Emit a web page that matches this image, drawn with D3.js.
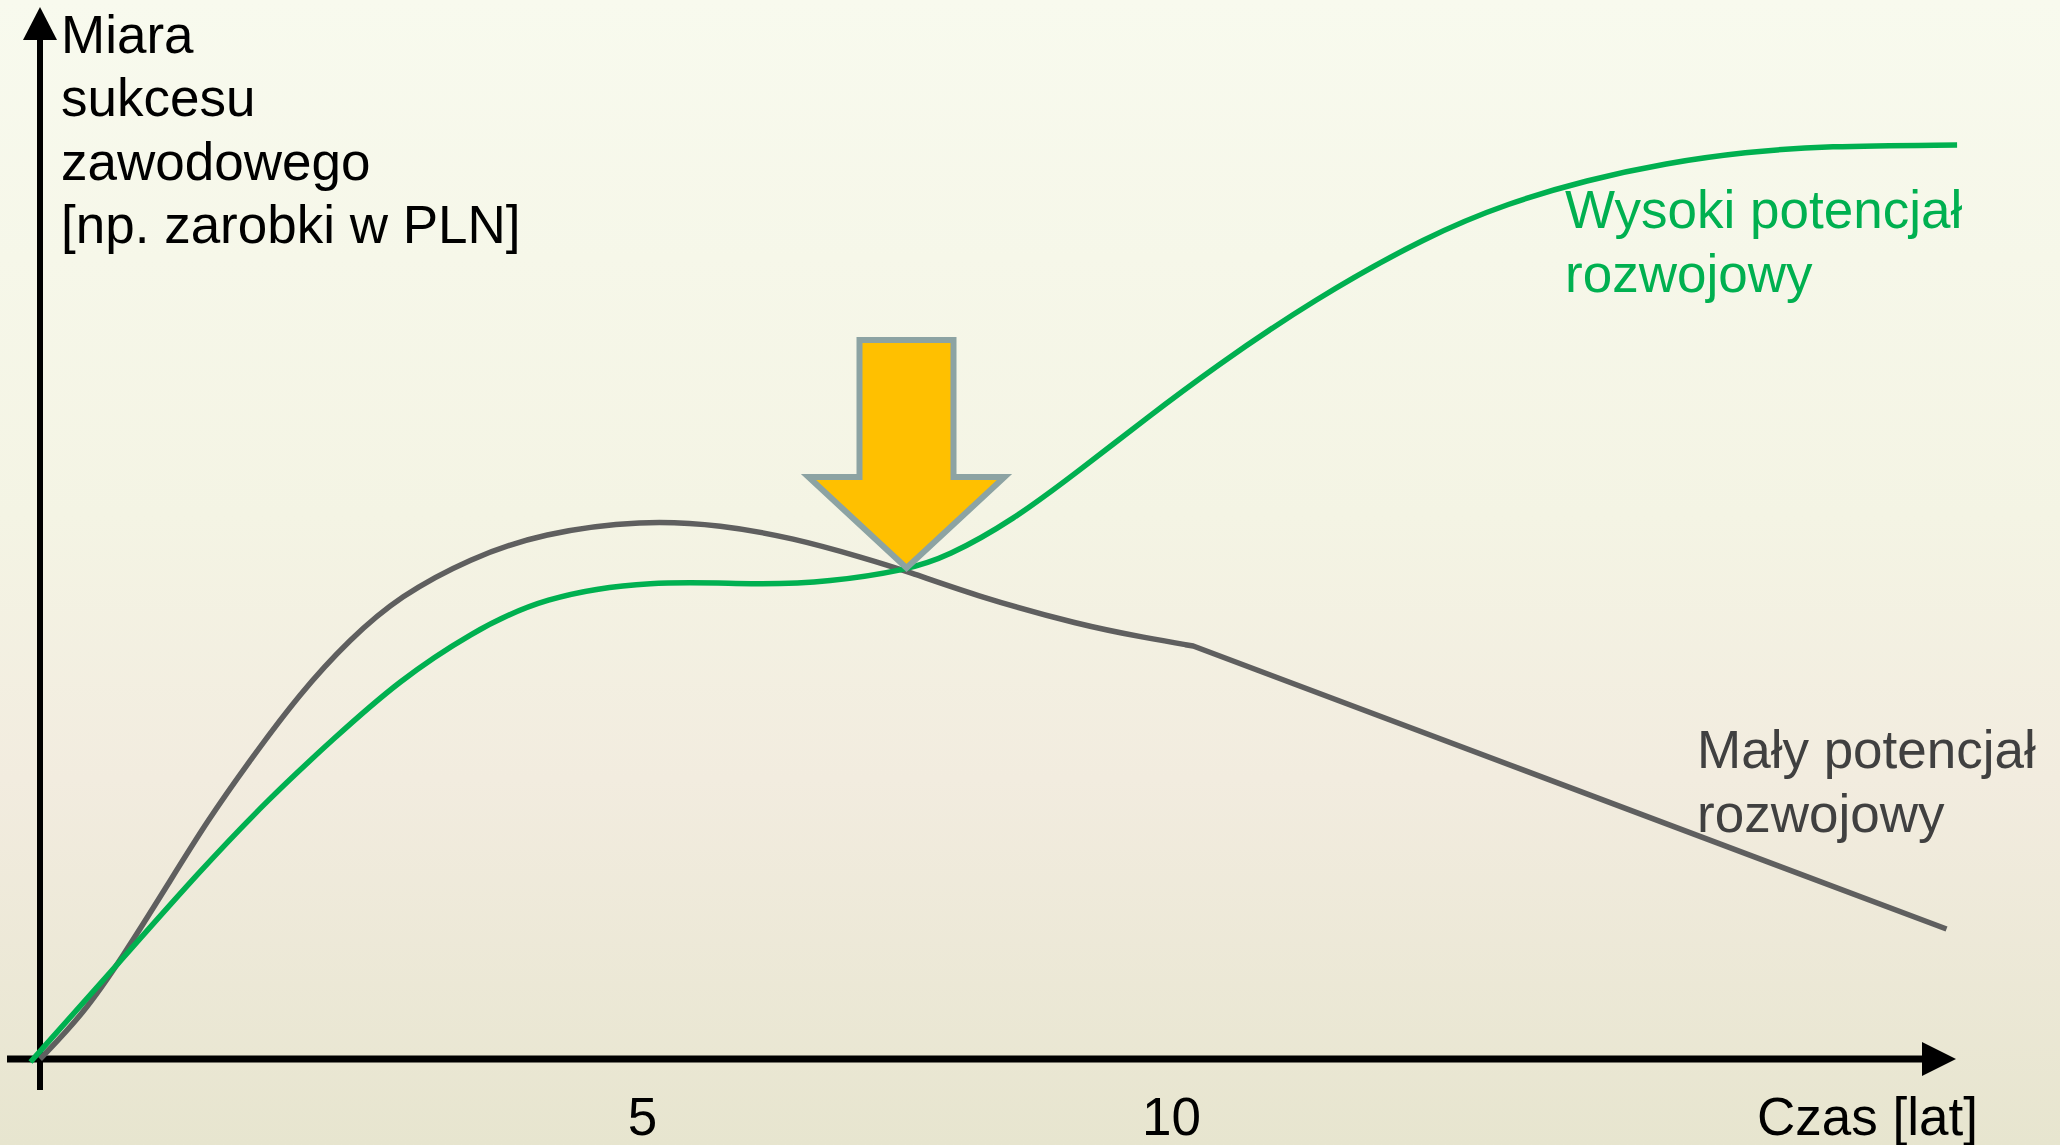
<!DOCTYPE html>
<html lang="pl">
<head>
<meta charset="utf-8">
<title>Potencjał rozwojowy</title>
<script src="https://cdn.jsdelivr.net/npm/d3@7"></script>
<style>
  html, body { margin: 0; padding: 0; background: #f4f4e4; }
  svg { display: block; }
  text { font-family: "Liberation Sans", Arial, sans-serif; }
</style>
</head>
<body>
<svg id="chart" width="2060" height="1145"></svg>
<script>
// Career success over time for two development profiles (values in arbitrary units)
const xTickValues = [5, 10];
const xTitle = "Czas [lat]";
const yTitleLines = ["Miara", "sukcesu", "zawodowego", "[np. zarobki w PLN]"];

// High development potential: slower start, plateau, then strong growth
const highYears  = [-0.78, 0.07, 0.82, 1.46, 2.08, 2.71, 3.38, 4.06, 5.08, 6.09, 6.77, 7.50, 7.88, 8.51, 9.14, 9.77, 10.40, 11.34, 12.44, 13.19, 13.93, 14.68, 15.43, 16.17, 17.43];
const highValues = [-0.3, 9.8, 18.8, 25.9, 32.0, 37.9, 42.6, 46.2, 47.9, 47.4, 47.7, 48.9, 50.2, 53.9, 58.9, 64.1, 69.1, 75.9, 82.4, 85.6, 87.9, 89.6, 90.7, 91.3, 91.4];
const highLabel = ["Wysoki potencjał", "rozwojowy"];

// Low development potential: quick start, peak, then decline
const lowYears  = [-0.69, -0.28, 0.09, 0.51, 0.89, 1.29, 1.77, 2.24, 2.71, 3.38, 4.06, 5.01, 5.75, 6.43, 7.10, 7.50, 8.19, 9.14, 9.77, 10.21];
const lowValues = [0, 4.5, 10.2, 17.3, 23.8, 29.8, 36.6, 42.0, 46.3, 50.1, 52.6, 53.9, 53.4, 52.1, 50.1, 48.8, 46.2, 43.4, 42.1, 41.3];
// after year ~10 the decline is linear
const lowTailYears  = [10.21, 17.33];
const lowTailValues = [41.3, 13.0];
const lowLabel = ["Mały potencjał", "rozwojowy"];

// The turning point where the two paths cross
const crossingYear = 7.5;
const crossingValue = 48.9;

const W = 2060, H = 1145;
const FONT = 53;
const svg = d3.select("#chart");

// Background gradient
const defs = svg.append("defs");
const bg = defs.append("linearGradient").attr("id", "bg")
  .attr("x1", 0).attr("y1", 0).attr("x2", 0).attr("y2", 1);
[["0%", "#f8faee"], ["45%", "#f4f4e4"], ["68%", "#f2ecdf"], ["100%", "#e7e5cf"]]
  .forEach(([o, c]) => bg.append("stop").attr("offset", o).attr("stop-color", c));
svg.append("rect").attr("width", W).attr("height", H).attr("fill", "url(#bg)");

// Scales
const x = d3.scaleLinear().domain([0, 10]).range([113, 1171]);
const y = d3.scaleLinear().domain([0, 100]).range([1059, 59]);

const x0 = 40, y0 = y(0);

// Axes with arrowheads
const axisG = svg.append("g");
axisG.append("line").attr("x1", x0).attr("x2", x0).attr("y1", 1090).attr("y2", 36)
  .attr("stroke", "#000").attr("stroke-width", 6);
axisG.append("path")
  .attr("d", `M${x0},7 L${x0 - 17},40 L${x0 + 17},40 Z`).attr("fill", "#000");
axisG.append("line").attr("x1", 7).attr("x2", 1926).attr("y1", y0).attr("y2", y0)
  .attr("stroke", "#000").attr("stroke-width", 7);
axisG.append("path")
  .attr("d", `M1956,${y0} L1922,${y0 - 17} L1922,${y0 + 17} Z`).attr("fill", "#000");

// Tick labels
const xAxis = d3.axisBottom(x).tickValues(xTickValues).tickSize(0).tickFormat(d3.format("d"));
const xAxisG = svg.append("g").attr("transform", `translate(0,${y0})`).call(xAxis);
xAxisG.select(".domain").remove();
xAxisG.selectAll("text")
  .attr("y", 76).attr("dy", 0)
  .attr("font-size", FONT).attr("fill", "#000")
  .attr("font-family", "'Liberation Sans', Arial, sans-serif");

// Axis titles
svg.append("text").attr("x", 1757).attr("y", 1135)
  .attr("font-size", FONT).attr("fill", "#000").text(xTitle);
const yt = svg.append("text").attr("font-size", FONT).attr("fill", "#000");
yTitleLines.forEach((s, i) => yt.append("tspan").attr("x", 61).attr("y", 53 + i * 63.3).text(s));

// Lines (B-spline through the sampled points keeps the curves smooth)
const lineGen = d3.line().x(d => x(d[0])).y(d => y(d[1])).curve(d3.curveBasis);

const highData = highYears.map((t, i) => [t, highValues[i]]);
const lowData = lowYears.map((t, i) => [t, lowValues[i]]);
const lowTail = lowTailYears.map((t, i) => [t, lowTailValues[i]]);

let lowPath = lineGen(lowData);
lowTail.slice(1).forEach(d => { lowPath += `L${x(d[0])},${y(d[1])}`; });

svg.append("path").attr("d", lowPath)
  .attr("fill", "none").attr("stroke", "#5f5f5f").attr("stroke-width", 5.5)
  .attr("stroke-linejoin", "round");
svg.append("path").attr("d", lineGen(highData))
  .attr("fill", "none").attr("stroke", "#00b050").attr("stroke-width", 5.5);

// Series labels
const hl = svg.append("text").attr("font-size", FONT).attr("fill", "#00b050");
highLabel.forEach((s, i) => hl.append("tspan").attr("x", 1565).attr("y", 228 + i * 64).text(s));
const ll = svg.append("text").attr("font-size", FONT).attr("fill", "#404040");
lowLabel.forEach((s, i) => ll.append("tspan").attr("x", 1697).attr("y", 768 + i * 64).text(s));

// Block arrow pointing at the crossing point
const tx = x(crossingYear), ty = y(crossingValue) - 2;
const shaftHalf = 47, headHalf = 98, headLen = 91, totalLen = 228;
const arrowPts = [
  [tx - shaftHalf, ty - totalLen], [tx + shaftHalf, ty - totalLen],
  [tx + shaftHalf, ty - headLen], [tx + headHalf, ty - headLen],
  [tx, ty], [tx - headHalf, ty - headLen], [tx - shaftHalf, ty - headLen]
];
svg.append("path").attr("d", d3.line()(arrowPts) + "Z")
  .attr("fill", "#ffc000").attr("stroke", "#8ca3a3").attr("stroke-width", 6)
  .attr("stroke-linejoin", "miter");
</script>
</body>
</html>
